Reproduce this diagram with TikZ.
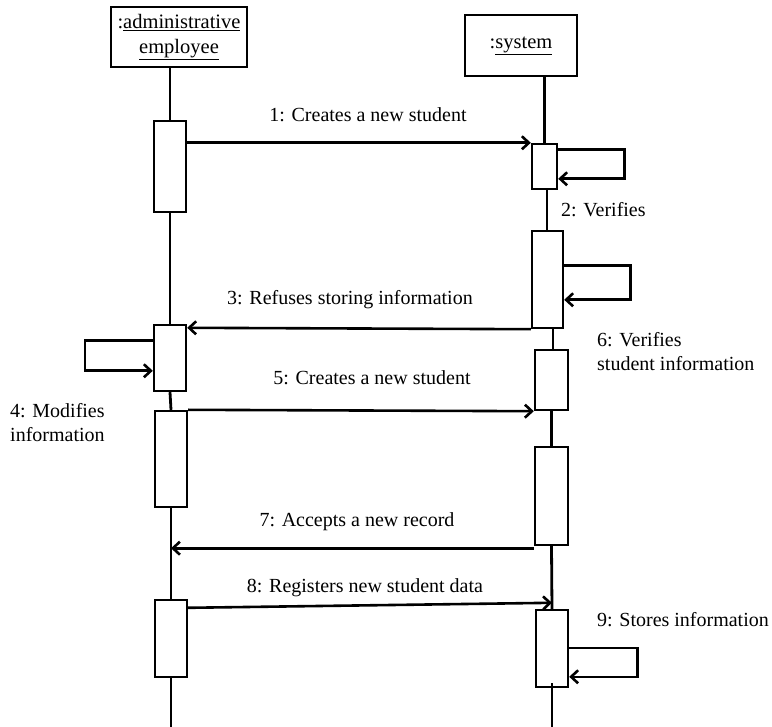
\documentclass[tikz,border=0pt]{standalone}
\usepackage{fontspec}
\setmainfont{Liberation Serif}
\usetikzlibrary{arrows.meta,calc}
\begin{document}
\begin{tikzpicture}[x=1pt,y=-1pt,
  every node/.style={font=\fontsize{20}{24}\selectfont},
  head/.style={draw, line width=2.4pt, align=center, inner sep=0pt},
  act/.style={draw, fill=white, line width=2.4pt, inner sep=0pt, minimum width=32pt},
  life/.style={line width=2.8pt},
  msg/.style={line width=2.6pt, -{Straight Barb[length=7pt,width=13pt]}},
  lbl/.style={inner sep=0pt, align=left}]
\useasboundingbox (0,0) rectangle (772,727);

% object heads
\node[head, minimum width=136pt, minimum height=60pt,
      font=\fontsize{20.5}{25}\selectfont] (emp) at (179,37)
  {:\underline{administrative}\\\underline{employee}};
\node[head, minimum width=112pt, minimum height=61pt,
      font=\fontsize{20.5}{25}\selectfont] (sys) at (521,45.5)
  {:\underline{system}};

% activation bars of the employee
\node[act, minimum height=91pt] (e1) at (170,166.5) {};
\node[act, minimum height=66pt] (e2) at (170,358) {};
\node[act, minimum height=96pt] (e3) at (171,459) {};
\node[act, minimum height=77pt] (e4) at (171,638.5) {};

% activation bars of the system
\node[act, minimum width=25pt, minimum height=45pt] (s1) at (544.5,166.5) {};
\node[act, minimum width=31pt, minimum height=97pt] (s2) at (547.5,279.5) {};
\node[act, minimum width=33pt, minimum height=60pt] (s3) at (551.5,380) {};
\node[act, minimum width=33pt, minimum height=98pt] (s4) at (551.5,496) {};
\node[act, minimum width=32pt, minimum height=77pt] (s5) at (552,648.5) {};

\coordinate (eend) at (171,727);
\coordinate (send) at (552,727);

% lifelines
\draw[life] (e1.north |- emp.south) -- (e1.north);
\draw[life] (e1.south) -- (e2.north);
\draw[life] (e2.south) -- (e3.north);
\draw[life] (e3.south) -- (e4.north);
\draw[life] (e4.south) -- (eend);
\draw[life] (s1.north |- sys.south) -- (s1.north);
\draw[life] ([xshift=2.5pt]s1.south) -- ([xshift=-0.5pt]s2.north);
\draw[life] ([xshift=5.5pt]s2.south) -- ([xshift=1.5pt]s3.north);
\draw[life] (s3.south) -- (s4.north);
\draw[life] (s4.south) -- (s5.north);
\draw[life] ([yshift=5pt]s5.south) -- (send);

% messages
\draw[msg] ($(e1.north east)+(0,23)$) -- (s1.north west);
\draw[msg] ($(s1.north east)+(0,7)$) -- ++(66,0) -- ++(0,29)
  -- ($(s1.north east)+(0,36)$);
\draw[msg] ($(s2.north east)+(0,36)$) -- ++(66,0) -- ++(0,34)
  -- ($(s2.north east)+(0,70)$);
\draw[msg] (s2.south west) -- ($(e2.north east)+(0,4)$);
\draw[msg] ($(e2.north west)+(0,17)$) -- ++(-68,0) -- ++(0,30)
  -- ($(e2.north west)+(0,47)$);
\draw[msg] (e3.north east) -- (s3.south west);
\draw[msg] ($(s4.south west)+(0,2)$) -- ($(e3.south |- s4.south west)+(0,2)$);
\draw[msg] ($(e4.north east)+(0,9)$) -- ($(s5.north)+(0,-6)$);
\draw[msg] ($(s5.north east)+(0,39)$) -- ++(68,0) -- ++(0,29)
  -- ($(s5.north east)+(0,68)$);

% message labels
\node[lbl] (l1) at (368,115) {1: Creates a new student};
\node[lbl, anchor=west] (l2) at (561,210) {2: Verifies};
\node[lbl] (l3) at (350,300) {3: Refuses storing information};
\node[lbl, anchor=north west] (l4) at (10,403) {4: Modifies\\information};
\node[lbl] (l5) at (372,378) {5: Creates a new student};
\node[lbl, anchor=north west] (l6) at (597,332) {6: Verifies\\student information};
\node[lbl] (l7) at (357,522) {7: Accepts a new record};
\node[lbl] (l8) at (365,588) {8: Registers new student data};
\node[lbl, anchor=west] (l9) at (597,620) {9: Stores information};
\end{tikzpicture}
\end{document}
